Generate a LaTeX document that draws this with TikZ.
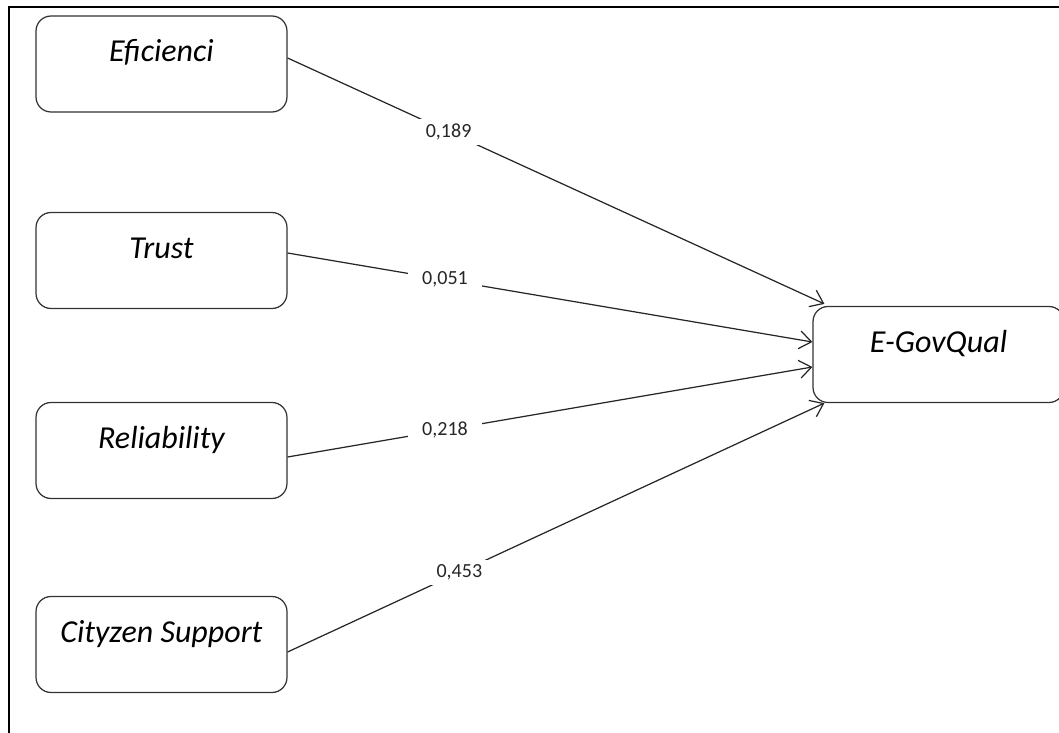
\documentclass[tikz,border=0pt]{standalone}
\usepackage{fontspec}
\setmainfont{Carlito}
\usepackage{tikz}
\usetikzlibrary{arrows.meta}

\begin{document}
\begin{tikzpicture}[x=0.02cm,y=-0.02cm]
\tikzstyle{construct}=[draw=black!80,line width=0.7pt,rounded corners=0.3cm,minimum width=5.02cm,inner sep=0pt,text height=0.92cm,text depth=1.0cm,font=\fontsize{18.2}{20}\selectfont\itshape]
\tikzstyle{path}=[draw=black!85,line width=0.7pt,-{Straight Barb[length=2.4mm,width=3.6mm]}]
\tikzstyle{weight}=[fill=white,inner xsep=0.28cm,inner ysep=0.1cm,font=\fontsize{11.4}{13}\selectfont,text=black!85,pos=0.3]

\useasboundingbox (0,0) rectangle (1059,733);
\draw[line width=1.2pt] (1059,7) -- (9,7) -- (9,733); %frame

\node[construct] (eff) at (161.5,64) {Eficienci};
\node[construct] (trust) at (161.5,260.5) {Trust};
\node[construct] (rel) at (161.5,450.5) {Reliability};
\node[construct] (cit) at (161.5,644.5) {Cityzen Support};
\node[construct] (egq) at (938.5,354.5) {E-GovQual};

\draw[path] ([yshift=0.12cm]eff.east) -- node[weight] (w1) {0,189} ([xshift=0.24cm,yshift=0.04cm]egq.north west);
\draw[path] ([yshift=0.15cm]trust.east) -- node[weight] (w2) {0,051} ([yshift=0.25cm]egq.west);
\draw[path] ([yshift=-0.13cm]rel.east) -- node[weight] (w3) {0,218} ([yshift=-0.25cm]egq.west);
\draw[path] ([yshift=-0.15cm]cit.east) -- node[weight,pos=0.32] (w4) {0,453} ([xshift=0.24cm]egq.south west);
\end{tikzpicture}
\end{document}
